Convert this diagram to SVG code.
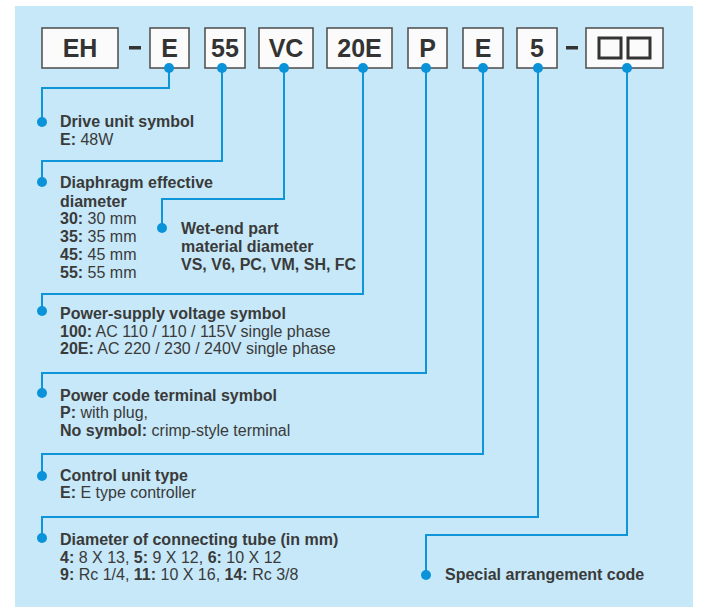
<svg xmlns="http://www.w3.org/2000/svg" width="702" height="607" viewBox="0 0 702 607">
<style>
.bx{fill:#fbfbfb;stroke:#555;stroke-width:1.6}
.code{font-family:"Liberation Sans",Arial,sans-serif;font-weight:bold;font-size:25px;fill:#333;text-anchor:middle}
.ln{fill:none;stroke:#0e96d8;stroke-width:2}
.dot{fill:#0a93d8}
.t{font-family:"Liberation Sans",Arial,sans-serif;font-size:16px;fill:#3a3a3a}
.b{font-weight:bold}
.sq{fill:none;stroke:#333;stroke-width:3}
</style>
<rect x="15" y="6" width="678" height="601" fill="#c6e8f8"/>

<g id="connectors">
<polyline class="ln" points="169,68 169,88 42,88 42,123"/>
<polyline class="ln" points="222,68 222,161 42,161 42,182"/>
<polyline class="ln" points="284,68 284,199 162,199 162,228"/>
<polyline class="ln" points="363,68 363,294 42,294 42,311"/>
<polyline class="ln" points="426,68 426,373 42,373 42,393"/>
<polyline class="ln" points="483,68 483,454 42,454 42,476"/>
<polyline class="ln" points="538,68 538,517 42,517 42,538"/>
<polyline class="ln" points="627,68 627,535 426,535 426,575"/>
</g>

<g id="code">
<g id="box-EH"><rect class="bx" x="42" y="28" width="76" height="40"/><text class="code" x="80" y="57">EH</text></g>
<rect id="dash1" x="129" y="46" width="12" height="3.5" fill="#333"/>
<g id="box-E1"><rect class="bx" x="150" y="28" width="39" height="40"/><text class="code" x="169.5" y="57">E</text><circle class="dot" cx="169" cy="68" r="5"/></g>
<g id="box-55"><rect class="bx" x="205" y="28" width="40" height="40"/><text class="code" x="225" y="57">55</text><circle class="dot" cx="222" cy="68" r="5"/></g>
<g id="box-VC"><rect class="bx" x="259" y="28" width="54" height="40"/><text class="code" x="286" y="57">VC</text><circle class="dot" cx="284" cy="68" r="5"/></g>
<g id="box-20E"><rect class="bx" x="327" y="28" width="65" height="40"/><text class="code" x="359.5" y="57">20E</text><circle class="dot" cx="363" cy="68" r="5"/></g>
<g id="box-P"><rect class="bx" x="408" y="28" width="39" height="40"/><text class="code" x="427.5" y="57">P</text><circle class="dot" cx="426" cy="68" r="5"/></g>
<g id="box-E2"><rect class="bx" x="463" y="28" width="40" height="40"/><text class="code" x="483" y="57">E</text><circle class="dot" cx="483" cy="68" r="5"/></g>
<g id="box-5"><rect class="bx" x="517" y="28" width="40" height="40"/><text class="code" x="537" y="57">5</text><circle class="dot" cx="538" cy="68" r="5"/></g>
<rect id="dash2" x="566" y="46" width="12" height="3.5" fill="#333"/>
<g id="box-special"><rect class="bx" x="586" y="28" width="77" height="40"/><rect class="sq" x="599" y="38" width="22" height="20"/><rect class="sq" x="628" y="38" width="22" height="20"/><circle class="dot" cx="627" cy="68" r="5"/></g>
</g>

<g id="n-drive"><circle class="dot" cx="42" cy="122" r="5"/>
<text class="t b" x="60" y="127">Drive unit symbol</text>
<text class="t" x="60" y="145"><tspan class="b">E:</tspan> 48W</text></g>

<g id="n-diaphragm"><circle class="dot" cx="42" cy="182" r="5"/>
<text class="t b" x="60" y="188">Diaphragm effective</text>
<text class="t b" x="60" y="206.5">diameter</text>
<text class="t" x="60" y="224.3"><tspan class="b">30:</tspan> 30 mm</text>
<text class="t" x="60" y="242"><tspan class="b">35:</tspan> 35 mm</text>
<text class="t" x="60" y="259.8"><tspan class="b">45:</tspan> 45 mm</text>
<text class="t" x="60" y="277.6"><tspan class="b">55:</tspan> 55 mm</text></g>

<g id="n-wetend"><circle class="dot" cx="162" cy="228" r="5"/>
<text class="t b" x="181" y="234">Wet-end part</text>
<text class="t b" x="181" y="252">material diameter</text>
<text class="t b" x="181" y="270">VS, V6, PC, VM, SH, FC</text></g>

<g id="n-power"><circle class="dot" cx="42" cy="311" r="5"/>
<text class="t b" x="60" y="318.5">Power-supply voltage symbol</text>
<text class="t" x="60" y="336.5"><tspan class="b">100:</tspan> AC 110 / 110 / 115V single phase</text>
<text class="t" x="60" y="354.3"><tspan class="b">20E:</tspan> AC 220 / 230 / 240V single phase</text></g>

<g id="n-terminal"><circle class="dot" cx="42" cy="393" r="5"/>
<text class="t b" x="60" y="400.7">Power code terminal symbol</text>
<text class="t" x="60" y="418.3"><tspan class="b">P:</tspan> with plug,</text>
<text class="t" x="60" y="435.8"><tspan class="b">No symbol:</tspan> crimp-style terminal</text></g>

<g id="n-control"><circle class="dot" cx="42" cy="476" r="5"/>
<text class="t b" x="60" y="480.7">Control unit type</text>
<text class="t" x="60" y="498.3"><tspan class="b">E:</tspan> E type controller</text></g>

<g id="n-tube"><circle class="dot" cx="42" cy="538" r="5"/>
<text class="t b" x="60" y="545">Diameter of connecting tube (in mm)</text>
<text class="t" x="60" y="562.5"><tspan class="b">4:</tspan> 8 X 13, <tspan class="b">5:</tspan> 9 X 12, <tspan class="b">6:</tspan> 10 X 12</text>
<text class="t" x="60" y="580"><tspan class="b">9:</tspan> Rc 1/4, <tspan class="b">11:</tspan> 10 X 16, <tspan class="b">14:</tspan> Rc 3/8</text></g>

<g id="n-special"><circle class="dot" cx="426" cy="575" r="5"/>
<text class="t b" x="445" y="580">Special arrangement code</text></g>
</svg>
